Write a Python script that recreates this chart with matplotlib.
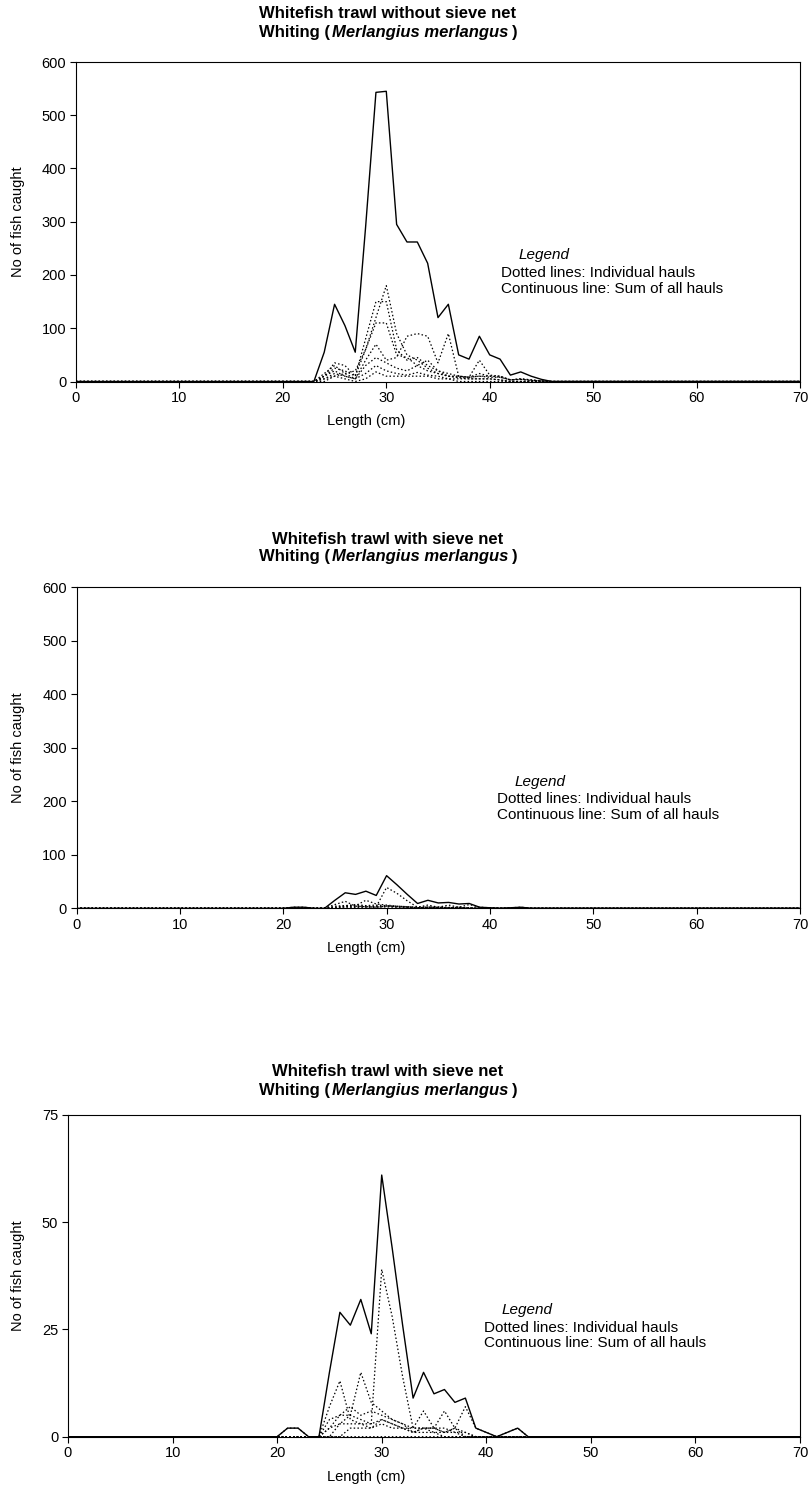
import matplotlib.pyplot as plt
import numpy as np
from matplotlib.offsetbox import TextArea, HPacker, AnnotationBbox

plt.rcParams['font.family'] = ['Liberation Sans', 'DejaVu Sans']

W, H = 809, 1493
lengths = np.arange(0, 71)

# Without sieve net: catch per length class, lengths 23..46 cm
top_start = 23
top_total = [0, 55, 145, 105, 55, 290, 543, 545, 295, 262, 262, 222,
             120, 145, 50, 42, 85, 50, 42, 12, 18, 10, 4, 0]
top_hauls = [
    [0, 5, 10, 15, 20, 60, 120, 180, 90, 50, 40, 25, 15, 10, 10, 8, 10, 10, 8, 3, 5, 3, 1, 0],
    [0, 10, 35, 30, 10, 80, 150, 150, 60, 40, 45, 30, 20, 15, 10, 8, 15, 10, 10, 3, 5, 3, 1, 0],
    [0, 10, 25, 20, 10, 60, 110, 110, 50, 45, 30, 20, 15, 10, 8, 8, 40, 12, 10, 3, 4, 2, 1, 0],
    [0, 15, 30, 15, 5, 40, 70, 40, 45, 85, 90, 85, 35, 90, 10, 8, 10, 8, 8, 3, 4, 2, 1, 0],
    [0, 10, 20, 10, 5, 30, 45, 35, 25, 20, 30, 40, 20, 10, 7, 5, 5, 5, 3, 0, 0, 0, 0, 0],
    [0, 5, 15, 10, 5, 15, 30, 20, 15, 12, 17, 12, 10, 5, 5, 5, 5, 5, 3, 0, 0, 0, 0, 0],
    [0, 0, 10, 5, 0, 5, 18, 10, 10, 10, 10, 10, 5, 5, 0, 0, 0, 0, 0, 0, 0, 0, 0, 0],
]

# With sieve net: lengths 20..44 cm (same data in the middle and bottom panels)
sieve_start = 20
sieve_total = [0, 2, 2, 0, 0, 15, 29, 26, 32, 24, 61, 44, 26, 9, 15, 10, 11,
               8, 9, 2, 1, 0, 1, 2, 0]
sieve_hauls = [
    [0, 0, 0, 0, 0, 2, 3, 5, 4, 3, 39, 28, 14, 2, 2, 2, 1, 2, 1, 0, 0, 0, 0, 0, 0],
    [0, 0, 0, 0, 0, 7, 13, 4, 3, 2, 4, 3, 2, 2, 6, 2, 2, 1, 1, 0, 0, 0, 0, 0, 0],
    [0, 0, 0, 0, 0, 4, 5, 5, 15, 8, 6, 4, 3, 2, 2, 2, 6, 2, 7, 2, 1, 0, 0, 0, 0],
    [0, 0, 0, 0, 0, 2, 5, 7, 5, 6, 5, 4, 3, 1, 2, 2, 1, 2, 0, 0, 0, 0, 1, 2, 0],
    [0, 0, 0, 0, 0, 0, 3, 3, 3, 3, 4, 3, 2, 1, 2, 1, 1, 1, 0, 0, 0, 0, 0, 0, 0],
    [0, 0, 0, 0, 0, 0, 0, 2, 2, 2, 3, 2, 2, 1, 1, 1, 0, 0, 0, 0, 0, 0, 0, 0, 0],
    [0, 2, 2, 0, 0, 0, 0, 0, 0, 0, 0, 0, 0, 0, 0, 0, 0, 0, 0, 0, 0, 0, 0, 0, 0],
]

titles = ["Whitefish trawl without sieve net",
          "Whitefish trawl with sieve net",
          "Whitefish trawl with sieve net"]
y_limits = [600, 600, 75]
y_ticks = [[0, 100, 200, 300, 400, 500, 600],
           [0, 100, 200, 300, 400, 500, 600],
           [0, 25, 50, 75]]
x_ticks = [0, 10, 20, 30, 40, 50, 60, 70]


def on_grid(start, vals):
    y = np.zeros(len(lengths))
    y[start:start + len(vals)] = vals
    return y


# plot area boxes in pixels: left, right, top, bottom
boxes = [(76, 800, 62, 381.5), (76.5, 800, 587.3, 908.3), (68, 800, 1115, 1436.7)]
title_rows = [(14, 32), (539, 557), (1072, 1090)]
legend_x = [501, 497, 484]
data = [(top_start, top_total, top_hauls),
        (sieve_start, sieve_total, sieve_hauls),
        (sieve_start, sieve_total, sieve_hauls)]

fig = plt.figure(figsize=(W / 100, H / 100), dpi=100)

for i, (l, r, t, b) in enumerate(boxes):
    ax = fig.add_axes([l / W, 1 - b / H, (r - l) / W, (b - t) / H])
    start, total, hauls = data[i]
    for h in hauls:
        ax.plot(lengths, on_grid(start, h), color='black', lw=0.9,
                linestyle=(0, (1.2, 1.8)))
    ax.plot(lengths, on_grid(start, total), color='black', lw=1.0)

    ax.set_xlim(0, 70)
    ax.set_ylim(0, y_limits[i])
    ax.set_xticks(x_ticks)
    ax.set_yticks(y_ticks[i])
    ax.tick_params(direction='out', length=4, width=0.8, labelsize=10.5,
                   pad=3)
    for s in ax.spines.values():
        s.set_linewidth(0.8)

    ax.set_xlabel('Length (cm)', fontsize=10.5)
    ax.xaxis.set_label_coords((366 - l) / (r - l), -40 / (b - t))
    ax.xaxis.label.set_va('center')
    ax.set_ylabel('No of fish caught', fontsize=10.5)
    ax.yaxis.set_label_coords((18 - l) / (r - l), 0.5)
    ax.yaxis.label.set_va('center')

    # legend text box
    lx = legend_x[i]
    ax.text((lx + 18 - l) / (r - l), 0.395, 'Legend', style='italic',
            fontsize=11, transform=ax.transAxes, va='center')
    ax.text((lx - l) / (r - l), 0.339, 'Dotted lines: Individual hauls',
            fontsize=11, transform=ax.transAxes, va='center')
    ax.text((lx - l) / (r - l), 0.290, 'Continuous line: Sum of all hauls',
            fontsize=11, transform=ax.transAxes, va='center')

    # two line title, second line mixes bold and bold italic
    y1, y2 = title_rows[i]
    fig.text(388 / W, 1 - y1 / H, titles[i], fontsize=12,
             fontweight='bold', ha='center', va='center')
    parts = HPacker(children=[
        TextArea('Whiting (', textprops=dict(fontsize=12, fontweight='bold')),
        TextArea('Merlangius merlangus', textprops=dict(fontsize=12, fontweight='bold', style='italic')),
        TextArea(')', textprops=dict(fontsize=12, fontweight='bold')),
    ], align='baseline', pad=0, sep=2)
    ab = AnnotationBbox(parts, (388 / W, 1 - y2 / H), xycoords='figure fraction',
                        frameon=False, box_alignment=(0.5, 0.5), pad=0)
    fig.add_artist(ab)

fig.savefig('out.png', dpi=100)
